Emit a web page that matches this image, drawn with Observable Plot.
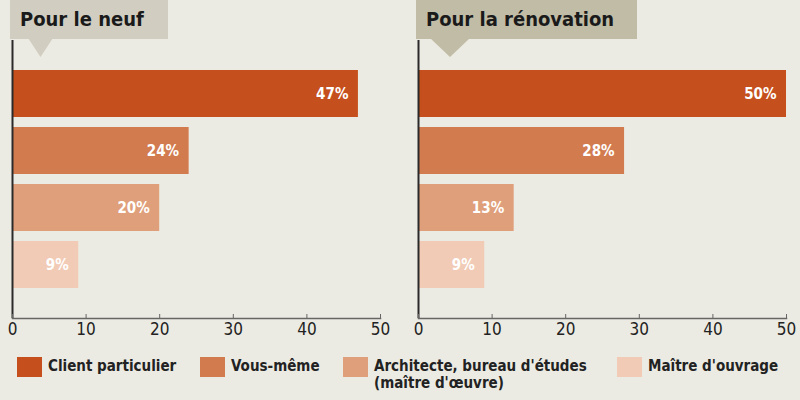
<!DOCTYPE html>
<html><head><meta charset="utf-8">
<script src="https://cdn.jsdelivr.net/npm/d3@7"></script>
<script src="https://cdn.jsdelivr.net/npm/@observablehq/plot@0.6"></script>
<style>
body{margin:0;}
#root{position:relative;width:800px;height:400px;background:#ecebe3;overflow:hidden;font-family:"Liberation Sans Narrow","DejaVu Sans Condensed","Liberation Sans",sans-serif;}
.panel{position:absolute;top:0;}
.title{position:absolute;top:0;height:39px;line-height:38px;font-weight:bold;font-size:20px;color:#1a1a1a;padding-left:10px;box-sizing:border-box;z-index:2;}
.tri{position:absolute;z-index:2;clip-path:polygon(0 0,100% 0,50% 100%);}
.leg{position:absolute;font-weight:bold;font-size:15px;color:#222;line-height:17px;white-space:pre;}
.sw{position:absolute;}
</style></head>
<body><div id="root"></div>
<script>
const categories = ["Client particulier","Vous-même","Architecte, bureau d'études (maître d'œuvre)","Maître d'ouvrage"];
const legendLabels = ["Client particulier","Vous-même","Architecte, bureau d'études\n(maître d'œuvre)","Maître d'ouvrage"];
const neuf = [47,24,20,9];
const renovation = [50,28,13,9];
const panelTitles = ["Pour le neuf","Pour la rénovation"];
const xTicks = [0,10,20,30,40,50];
const colors = ["#c5501d","#d27b4f","#e09f7b","#f1cbb5"];

const root = document.getElementById("root");

function panel(values, ml, mr){
  const data = categories.map((c,i)=>({cat:c, v:values[i]}));
  return Plot.plot({
    width:400, height:345, marginLeft:ml, marginRight:mr, marginTop:70, marginBottom:27,
    style:{background:"transparent", fontFamily:"'Liberation Sans Narrow','DejaVu Sans Condensed',sans-serif", fontSize:"17px", color:"#222"},
    x:{domain:[0,50], label:null},
    y:{domain:categories, paddingInner:0.175, paddingOuter:0.25, align:0, axis:null},
    color:{domain:categories, range:colors},
    marks:[
      Plot.barX(data,{y:"cat", x:"v", fill:"cat"}),
      Plot.text(data,{y:"cat", x:"v", text:d=>d.v+"%", textAnchor:"end", dx:-10, fill:"white", fontWeight:"bold", fontSize:15}),
      Plot.frame({anchor:"bottom", stroke:"#666", strokeWidth:1.5}),
      Plot.ruleX([0],{insetTop:-30, stroke:"#2a2a2a", strokeWidth:2}),
      Plot.axisX({ticks:xTicks, tickSize:4, dy:-4, tickFormat:()=>"", label:null, stroke:"#666"}),
      Plot.axisX({ticks:xTicks, tickSize:0, tickPadding:4, label:null, fill:"#222"})
    ]
  });
}

const specs = [
  {vals:neuf, left:0, ml:12, mr:20, box:[10,158], boxColor:"#d1cec1", tri:[28,25,57]},
  {vals:renovation, left:400, ml:18, mr:14, box:[416,221], boxColor:"#c0bca5", tri:[430,40,57]}
];
specs.forEach((s,i)=>{
  const wrap = document.createElement("div");
  wrap.className="panel"; wrap.style.left=s.left+"px";
  wrap.appendChild(panel(s.vals, s.ml, s.mr));
  root.appendChild(wrap);
  const t = document.createElement("div");
  t.className="title"; t.textContent=panelTitles[i];
  t.style.left=s.box[0]+"px"; t.style.width=s.box[1]+"px"; t.style.background=s.boxColor;
  root.appendChild(t);
  const tr = document.createElement("div");
  tr.className="tri"; tr.style.left=s.tri[0]+"px"; tr.style.top="38px";
  tr.style.width=s.tri[1]+"px"; tr.style.height=(s.tri[2]-38)+"px"; tr.style.background=s.boxColor;
  root.appendChild(tr);
});

const legX = [17,200,343,617];
legendLabels.forEach((l,i)=>{
  const sw = document.createElement("div");
  sw.className="sw"; sw.style.left=legX[i]+"px"; sw.style.top="357px";
  sw.style.width="25px"; sw.style.height="20px"; sw.style.background=colors[i];
  root.appendChild(sw);
  const tx = document.createElement("div");
  tx.className="leg"; tx.textContent=l; tx.style.left=(legX[i]+31)+"px"; tx.style.top="358px";
  root.appendChild(tx);
});
</script></body></html>
